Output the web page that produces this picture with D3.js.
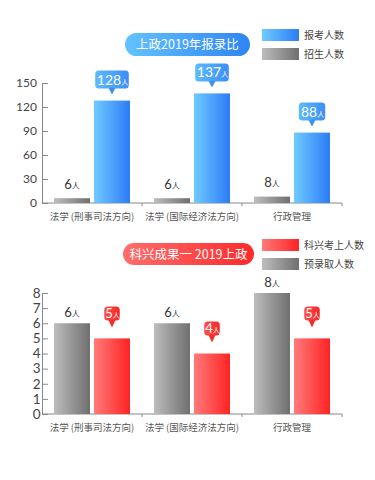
<!DOCTYPE html>
<html>
<head>
<meta charset="utf-8">
<script src="https://cdn.jsdelivr.net/npm/d3@7"></script>
<style>
  html, body { margin: 0; padding: 0; background: #fff; }
  svg { display: block; font-family: "Noto Sans CJK SC", "Noto Sans", sans-serif; }
</style>
</head>
<body>
<div id="chart"></div>
<script>
const CATEGORIES = ["法学 (刑事司法方向)", "法学 (国际经济法方向)", "行政管理"];

// chart 1: 上政2019年报录比
const APPLICANTS = [128, 137, 88];
const ENROLLMENT = [6, 6, 8];
const TICKS_1 = [0, 30, 60, 90, 120, 150];

// chart 2: 科兴成果 — 2019上政
const KX_PASSED = [5, 4, 5];
const PRE_ADMITTED = [6, 6, 8];
const TICKS_2 = [0, 1, 2, 3, 4, 5, 6, 7, 8];

const WIDTH = 375, HEIGHT = 480;

const svg = d3.select("#chart")
    .append("svg")
        .attr("width", WIDTH)
        .attr("height", HEIGHT);

// GRADIENTS
const defs = svg.append("defs");
function grad(id, from, to) {
    const g = defs.append("linearGradient")
        .attr("id", id)
        .attr("x1", "0%").attr("x2", "100%")
        .attr("y1", "0%").attr("y2", "0%");
    g.append("stop").attr("offset", "0%").attr("stop-color", from);
    g.append("stop").attr("offset", "100%").attr("stop-color", to);
}
grad("blue", "#6fcbff", "#2c7cf6");
grad("gray", "#bdbdbd", "#6f6f6f");
grad("red", "#ff7a7a", "#ff2323");
grad("bluePill", "#62c3ff", "#2f85f2");
grad("redPill", "#ff6d6d", "#ff2a2a");
grad("blueTip", "#5dbbff", "#3b8ef6");
grad("redTip", "#ff4a4a", "#f42a2a");

const x0 = d3.scaleBand()
    .domain(CATEGORIES)
    .range([42, 342]);

const x1 = d3.scaleBand()
    .domain(["a", "b"])
    .range([12, 88])
    .paddingInner(0.1);

function pill(cx, cy, w, h, fill, text) {
    svg.append("rect")
        .attr("x", cx - w / 2).attr("y", cy - h / 2)
        .attr("width", w).attr("height", h)
        .attr("rx", h / 2)
        .attr("fill", fill);
    svg.append("text")
        .attr("x", cx).attr("y", cy + 4.5)
        .attr("text-anchor", "middle")
        .attr("font-size", 12.5)
        .attr("fill", "#fff")
        .text(text);
}

function legend(x, y, fill, text) {
    svg.append("rect")
        .attr("x", x).attr("y", y)
        .attr("width", 37).attr("height", 12)
        .attr("fill", fill);
    svg.append("text")
        .attr("x", x + 42).attr("y", y + 10)
        .attr("font-size", 10)
        .attr("fill", "#444")
        .text(text);
}

function axes(y, ticks, fontSize, pad) {
    const axisLeft = d3.axisLeft(y)
        .tickValues(ticks)
        .tickSizeInner(-6)
        .tickSizeOuter(0)
        .tickPadding(pad);
    const g = svg.append("g")
        .attr("transform", "translate(42,0)")
        .call(axisLeft);
    g.select(".domain").attr("stroke", "#888");
    g.selectAll(".tick line").attr("stroke", "#888");
    g.selectAll(".tick text")
        .attr("font-size", fontSize)
        .attr("fill", "#444")
        .attr("font-family", "Lato, 'Noto Sans', sans-serif");

    const base = y(0);
    svg.append("line")
        .attr("x1", 42).attr("x2", 342)
        .attr("y1", base).attr("y2", base)
        .attr("stroke", "#888");
    CATEGORIES.forEach(c => {
        const xe = x0(c) + x0.bandwidth();
        svg.append("line")
            .attr("x1", xe).attr("x2", xe)
            .attr("y1", base).attr("y2", base + 3)
            .attr("stroke", "#888");
    });
    svg.selectAll(null)
        .data(CATEGORIES)
        .enter()
        .append("text")
        .attr("x", c => x0(c) + x0.bandwidth() / 2)
        .attr("y", base + 17)
        .attr("text-anchor", "middle")
        .attr("font-size", 9.5)
        .attr("fill", "#555")
        .text(c => c);
}

function bars(y, values, key, fill) {
    svg.selectAll(null)
        .data(values)
        .enter()
        .append("rect")
        .attr("x", (v, i) => x0(CATEGORIES[i]) + x1(key))
        .attr("y", v => y(v))
        .attr("width", x1.bandwidth())
        .attr("height", v => y(0) - y(v))
        .attr("fill", fill);
}

function plainLabels(y, values, key, gap) {
    values.forEach((v, i) => {
        const t = svg.append("text")
            .attr("x", x0(CATEGORIES[i]) + x1(key) + x1.bandwidth() / 2)
            .attr("y", y(v) - gap)
            .attr("text-anchor", "middle")
            .attr("fill", "#333");
        t.append("tspan").attr("font-size", 13).attr("font-family", "Lato, 'Noto Sans', sans-serif").text(v);
        t.append("tspan").attr("font-size", 8).text("人");
    });
}

function bubbles(y, values, key, opts) {
    values.forEach((v, i) => {
        const cx = x0(CATEGORIES[i]) + x1(key) + x1.bandwidth() / 2;
        const tip = y(v) - opts.gap;
        const bottom = tip - opts.tail;
        const top = bottom - opts.h;
        const w = String(v).length * opts.digitW + 12;
        svg.append("rect")
            .attr("x", cx - w / 2).attr("y", top)
            .attr("width", w).attr("height", opts.h)
            .attr("rx", 3.5)
            .attr("fill", opts.fill);
        svg.append("path")
            .attr("d", `M${cx - 3.5},${bottom - 0.5} L${cx + 3.5},${bottom - 0.5} L${cx},${tip} Z`)
            .attr("fill", opts.tailFill);
        const t = svg.append("text")
            .attr("x", cx + 0.5)
            .attr("y", top + opts.h / 2 + opts.fs * 0.36)
            .attr("text-anchor", "middle")
            .attr("fill", "#fff");
        t.append("tspan").attr("font-size", opts.fs).attr("font-family", "Lato, 'Noto Sans', sans-serif").text(v);
        t.append("tspan").attr("font-size", 7).text("人");
    });
}

// CHART 1
pill(187.5, 44.5, 125, 23, "url(#bluePill)", "上政2019年报录比");
legend(262, 29, "url(#blue)", "报考人数");
legend(262, 48, "url(#gray)", "招生人数");

const y1 = d3.scaleLinear()
    .domain([0, 150])
    .range([203, 83]);

axes(y1, TICKS_1, 12, 5);
bars(y1, ENROLLMENT, "a", "url(#gray)");
bars(y1, APPLICANTS, "b", "url(#blue)");
plainLabels(y1, ENROLLMENT, "a", 9.5);
bubbles(y1, APPLICANTS, "b", {
    gap: 6, tail: 6, h: 18, digitW: 7.2, fs: 14,
    fill: "url(#blueTip)", tailFill: "#3f90f3"
});

// CHART 2
pill(188.5, 254, 131, 22, "url(#redPill)", "科兴成果一 2019上政");
legend(262, 239, "url(#red)", "科兴考上人数");
legend(262, 258, "url(#gray)", "预录取人数");

const y2 = d3.scaleLinear()
    .domain([0, 8])
    .range([414, 293]);

axes(y2, TICKS_2, 13.5, 1.5);
bars(y2, PRE_ADMITTED, "a", "url(#gray)");
bars(y2, KX_PASSED, "b", "url(#red)");
plainLabels(y2, PRE_ADMITTED, "a", 6.5);
bubbles(y2, KX_PASSED, "b", {
    gap: 11, tail: 7, h: 14, digitW: 3.5, fs: 13,
    fill: "url(#redTip)", tailFill: "#f22b2b"
});
</script>
</body>
</html>
